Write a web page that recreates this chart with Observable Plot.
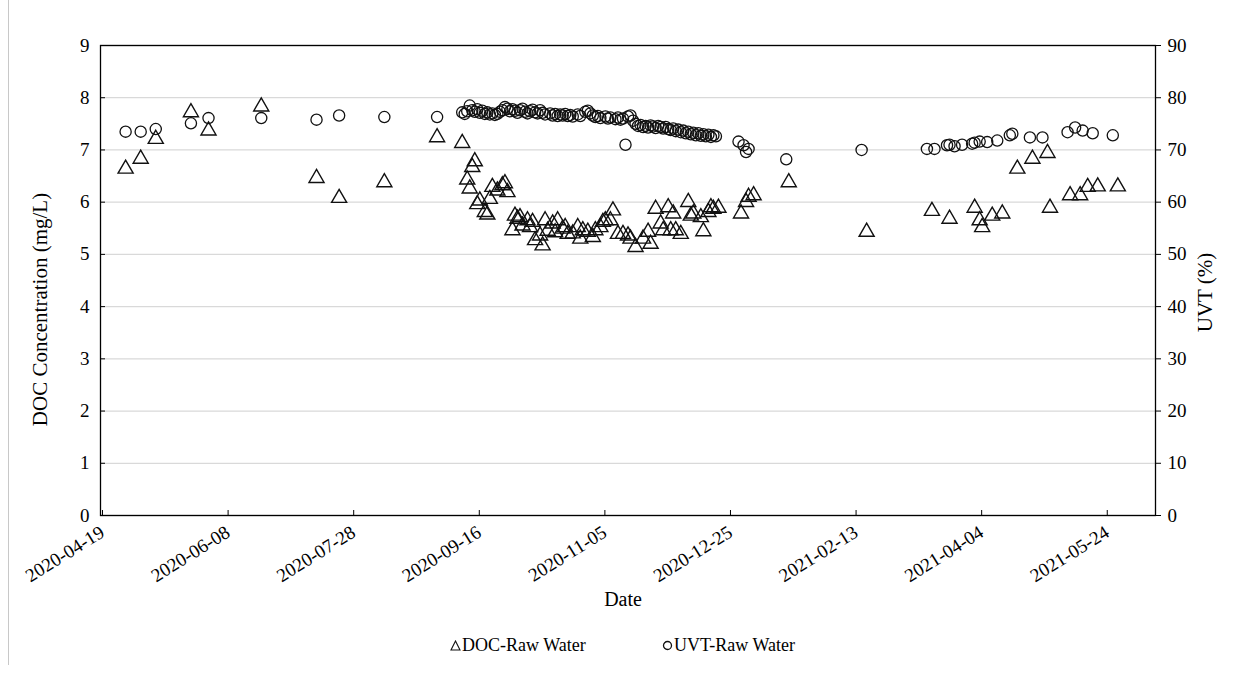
<!DOCTYPE html>
<html>
<head>
<meta charset="utf-8">
<script src="https://cdn.jsdelivr.net/npm/d3@7"></script>
<script src="https://cdn.jsdelivr.net/npm/@observablehq/plot@0.6"></script>
<style>
  body { margin: 0; background: #fff; font-family: "Liberation Serif", "Times New Roman", serif; }
  #wrap { position: relative; width: 1234px; height: 681px; overflow: hidden; }
  #edge { position: absolute; left: 8px; top: 0; width: 1px; height: 665px; background: #c8c8c8; }
  #chart { position: absolute; left: 0; top: 0; }
  .key { position: absolute; top: 635px; font-size: 18px; color: #000; white-space: nowrap; display: flex; align-items: center; }
  .key svg { margin-right: 1px; }
</style>
</head>
<body>
<div id="wrap">
  <div id="edge"></div>
  <div id="chart"></div>
  <div class="key" style="left:450px"><svg width="11" height="11" viewBox="0 0 11 11"><path d="M5.5,1 L10,10 L1,10 Z" fill="none" stroke="#111" stroke-width="1.1"/></svg>DOC-Raw Water</div>
  <div class="key" style="left:662px"><svg width="11" height="11" viewBox="0 0 11 11"><circle cx="5.5" cy="5.5" r="4" fill="none" stroke="#111" stroke-width="1.3"/></svg>UVT-Raw Water</div>
</div>
<script>
// Dissolved organic carbon of the raw water (mg/L)
const docDates = [
  "2020-04-29","2020-05-05","2020-05-11","2020-05-25","2020-06-01","2020-06-22","2020-07-14","2020-07-23","2020-08-10","2020-08-31",
  "2020-09-10","2020-09-12","2020-09-13","2020-09-14","2020-09-15","2020-09-16","2020-09-17","2020-09-19","2020-09-20","2020-09-21",
  "2020-09-22","2020-09-24","2020-09-26","2020-09-27","2020-09-28","2020-09-30","2020-10-01","2020-10-02","2020-10-03","2020-10-04",
  "2020-10-06","2020-10-07","2020-10-08","2020-10-09","2020-10-11","2020-10-12","2020-10-13","2020-10-14","2020-10-16","2020-10-17",
  "2020-10-18","2020-10-20","2020-10-21","2020-10-22","2020-10-24","2020-10-26","2020-10-27","2020-10-28","2020-10-30","2020-11-01",
  "2020-11-02","2020-11-04","2020-11-05","2020-11-06","2020-11-08","2020-11-09","2020-11-11","2020-11-13","2020-11-15","2020-11-16",
  "2020-11-18","2020-11-21","2020-11-23","2020-11-24","2020-11-26","2020-11-28","2020-11-29","2020-12-01","2020-12-02","2020-12-03",
  "2020-12-04","2020-12-06","2020-12-09","2020-12-10","2020-12-11","2020-12-14","2020-12-15","2020-12-17","2020-12-18","2020-12-19",
  "2020-12-21","2020-12-30","2021-01-01","2021-01-02","2021-01-04","2021-01-18","2021-02-18","2021-03-16","2021-03-23","2021-04-02",
  "2021-04-04","2021-04-05","2021-04-09","2021-04-13","2021-04-19","2021-04-25","2021-05-01","2021-05-02","2021-05-10","2021-05-14",
  "2021-05-17","2021-05-21","2021-05-29"
];
const docValues = [
  6.64, 6.83, 7.21, 7.72, 7.37, 7.83, 6.46, 6.08, 6.38, 7.24,
  7.13, 6.43, 6.26, 6.67, 6.78, 5.96, 6.03, 5.81, 5.76, 6.06,
  6.29, 6.22, 6.32, 6.36, 6.19, 5.46, 5.74, 5.68, 5.71, 5.55,
  5.65, 5.52, 5.62, 5.27, 5.36, 5.17, 5.65, 5.45, 5.59, 5.42,
  5.65, 5.49, 5.52, 5.39, 5.40, 5.52, 5.30, 5.46, 5.43, 5.33,
  5.46, 5.52, 5.62, 5.65, 5.65, 5.84, 5.39, 5.39, 5.36, 5.30,
  5.14, 5.30, 5.43, 5.20, 5.87, 5.59, 5.46, 5.90, 5.46, 5.78,
  5.46, 5.39, 6.00, 5.74, 5.78, 5.71, 5.44, 5.81, 5.90, 5.87,
  5.89, 5.78, 6.00, 6.10, 6.13, 6.38, 5.43, 5.83, 5.68, 5.89,
  5.65, 5.52, 5.74, 5.78, 6.64, 6.83, 6.94, 5.89, 6.13, 6.13,
  6.29, 6.30, 6.30
];

// UV transmittance of the raw water (%)
const uvtDates = [
  "2020-04-29","2020-05-05","2020-05-11","2020-05-25","2020-06-01","2020-06-22","2020-07-14","2020-07-23","2020-08-10","2020-08-31",
  "2020-09-10","2020-09-11","2020-09-12","2020-09-13","2020-09-14","2020-09-15","2020-09-16","2020-09-17","2020-09-18","2020-09-19",
  "2020-09-20","2020-09-21","2020-09-22","2020-09-23","2020-09-24","2020-09-25","2020-09-26","2020-09-27","2020-09-28","2020-09-29",
  "2020-09-30","2020-10-01","2020-10-02","2020-10-03","2020-10-04","2020-10-05","2020-10-06","2020-10-07","2020-10-08","2020-10-09",
  "2020-10-10","2020-10-11","2020-10-12","2020-10-13","2020-10-15","2020-10-16","2020-10-17","2020-10-18","2020-10-19","2020-10-20",
  "2020-10-21","2020-10-22","2020-10-23","2020-10-24","2020-10-26","2020-10-27","2020-10-29","2020-10-30","2020-10-31","2020-11-01",
  "2020-11-02","2020-11-03","2020-11-04","2020-11-06","2020-11-07","2020-11-08","2020-11-10","2020-11-11","2020-11-12","2020-11-13",
  "2020-11-14","2020-11-15","2020-11-16","2020-11-17","2020-11-18","2020-11-19","2020-11-20","2020-11-21","2020-11-22","2020-11-23",
  "2020-11-24","2020-11-25","2020-11-26","2020-11-27","2020-11-28","2020-11-29","2020-11-30","2020-12-01","2020-12-02","2020-12-03",
  "2020-12-04","2020-12-05","2020-12-06","2020-12-07","2020-12-08","2020-12-09","2020-12-10","2020-12-11","2020-12-12","2020-12-13",
  "2020-12-14","2020-12-15","2020-12-16","2020-12-17","2020-12-18","2020-12-19","2020-12-20","2020-12-29","2020-12-31","2021-01-01",
  "2021-01-02","2021-01-17","2021-02-16","2021-03-14","2021-03-17","2021-03-22","2021-03-23","2021-03-25","2021-03-28","2021-04-01",
  "2021-04-02","2021-04-04","2021-04-07","2021-04-11","2021-04-16","2021-04-17","2021-04-24","2021-04-29","2021-05-09","2021-05-12",
  "2021-05-15","2021-05-19","2021-05-27"
];
const uvtValues = [
  73.5, 73.5, 74.0, 75.1, 76.1, 76.1, 75.8, 76.6, 76.3, 76.3,
  77.2, 76.9, 77.4, 78.5, 77.6, 77.3, 77.8, 77.1, 77.5, 76.9,
  77.2, 76.8, 77.0, 76.7, 76.9, 77.3, 77.6, 78.2, 77.9, 77.4,
  77.8, 77.5, 77.1, 77.6, 77.9, 77.3, 77.0, 77.4, 77.7, 77.2,
  77.0, 77.6, 77.1, 76.8, 77.0, 76.6, 76.9, 76.5, 76.8, 76.6,
  76.9, 76.5, 76.7, 76.4, 76.8, 76.5, 77.3, 77.5, 77.0, 76.6,
  76.3, 76.5, 76.1, 76.4, 76.0, 76.2, 75.9, 76.2, 75.8, 76.0,
  71.0, 76.4, 76.6, 75.6, 75.0, 74.6, 74.8, 74.4, 74.6, 74.3,
  74.7, 74.5, 74.2, 74.6, 74.4, 74.1, 74.4, 74.0, 73.8, 74.1,
  73.6, 73.9, 73.4, 73.7, 73.2, 73.5, 73.0, 73.3, 72.8, 73.2,
  72.7, 73.0, 72.6, 72.9, 72.5, 72.8, 72.6, 71.6, 70.9, 69.6,
  70.2, 68.2, 70.0, 70.2, 70.2, 70.9, 71.0, 70.7, 71.0, 71.2,
  71.4, 71.6, 71.5, 71.8, 72.8, 73.1, 72.4, 72.4, 73.4, 74.3,
  73.7, 73.2, 72.8
];

// Axis ticks
const dateTicks = ["2020-04-19","2020-06-08","2020-07-28","2020-09-16","2020-11-05","2020-12-25","2021-02-13","2021-04-04","2021-05-24"];
const dateDomain = ["2020-04-19", "2021-06-13"];
const docTicks = [0, 1, 2, 3, 4, 5, 6, 7, 8, 9];
const uvtTicks = [0, 10, 20, 30, 40, 50, 60, 70, 80, 90];

// UVT shares the DOC scale, stretched by the ratio of the two axis tops
const uvtFactor = uvtTicks[uvtTicks.length - 1] / docTicks[docTicks.length - 1];

const doc = docDates.map((d, i) => ({date: new Date(d), value: docValues[i]}));
const uvt = uvtDates.map((d, i) => ({date: new Date(d), value: uvtValues[i]}));

const ink = "#111";

const chart = Plot.plot({
  width: 1234,
  height: 625,
  marginLeft: 100,
  marginRight: 79,
  marginTop: 45,
  marginBottom: 110,
  style: {fontFamily: "'Liberation Serif', 'Times New Roman', serif", fontSize: "19px", color: "#000", background: "transparent", overflow: "visible"},
  x: {type: "utc", domain: dateDomain.map(d => new Date(d))},
  y: {domain: [docTicks[0], docTicks[docTicks.length - 1]]},
  marks: [
    Plot.gridY(docTicks, {stroke: "#d9d9d9", strokeOpacity: 1, strokeWidth: 1.3}),
    Plot.frame({stroke: "#000", strokeWidth: 1.3}),
    Plot.axisY({anchor: "left", ticks: docTicks, tickSize: -5, tickPadding: 16, label: null}),
    Plot.axisY({anchor: "right", ticks: docTicks, tickSize: 5, tickPadding: 7, label: null,
      tickFormat: d => String(uvtTicks[docTicks.indexOf(d)])}),
    Plot.axisX({ticks: dateTicks.map(d => new Date(d)), tickSize: -5, tickPadding: 20, dx: 2, tickRotate: -32,
      tickFormat: d3.utcFormat("%Y-%m-%d"), label: null}),
    Plot.dot(doc, {x: "date", y: "value", symbol: "triangle", r: 5.6, stroke: ink, strokeWidth: 1.4, fill: "none"}),
    Plot.dot(uvt, {x: "date", y: d => d.value / uvtFactor, r: 5.6, stroke: ink, strokeWidth: 1.3, fill: "none"}),
    Plot.text(["DOC Concentration (mg/L)"], {frameAnchor: "left", textAnchor: "middle", dx: -60, dy: 29, rotate: -90, fontSize: 21, fill: "#000"}),
    Plot.text(["UVT (%)"], {frameAnchor: "right", textAnchor: "middle", dx: 50, dy: 12, rotate: -90, fontSize: 21, fill: "#000"}),
    Plot.text(["Date"], {frameAnchor: "bottom", textAnchor: "middle", dx: -5, dy: 90, fontSize: 20, fill: "#000"})
  ]
});
document.getElementById("chart").appendChild(chart);
</script>
</body>
</html>
